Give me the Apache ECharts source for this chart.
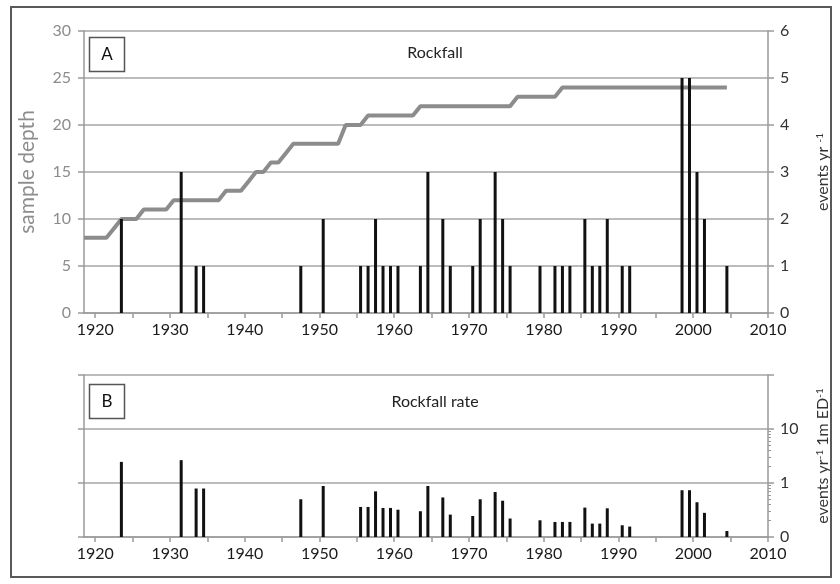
<!DOCTYPE html>
<html><head><meta charset="utf-8">
<script src="https://cdn.jsdelivr.net/npm/echarts@6/dist/echarts.min.js"></script>
<style>html,body{margin:0;padding:0;background:#fff}#c{width:840px;height:584px}</style>
</head><body><div id="c"></div>
<script>
// ---- data ----
const depthStartYear = 1918;            // first year of the sample-depth curve
const sampleDepth = [
  8,8,8,8, 9, 10,10,10, 11,11,11,11, 12,12,12,12,12,12,12, 13,13,13, 14, 15,15, 16,16, 17,
  18,18,18,18,18,18,18, 20,20,20, 21,21,21,21,21,21,21,
  22,22,22,22,22,22,22,22,22,22,22,22,22, 23,23,23,23,23,23,
  24,24,24,24,24,24,24,24,24,24,24,24,24,24,24,24,24,24,24,24,24,24,24
];
const eventYears = [1923,1931,1933,1934,1947,1950,1955,1956,1957,1958,1959,1960,1963,1964,1966,1967,
  1970,1971,1973,1974,1975,1979,1981,1982,1983,1985,1986,1987,1988,1990,1991,1998,1999,2000,2001,2004];
const eventsPerYear = [2,3,1,1,1,2,1,1,2,1,1,1,1,3,2,1,
  1,2,3,2,1,1,1,1,1,2,1,1,2,1,1,5,5,3,2,1];
const rockfallRate = [2.46,2.65,0.79,0.79,0.50,0.88,0.36,0.36,0.70,0.345,0.345,0.32,0.30,0.88,0.54,0.26,
  0.245,0.50,0.68,0.47,0.22,0.204,0.19,0.19,0.19,0.35,0.177,0.177,0.34,0.165,0.156,0.735,0.735,0.44,0.28,0.129];
const xLabelYears = [1920,1930,1940,1950,1960,1970,1980,1990,2000,2010];
const xTickYears = [1920,1925,1930,1935,1940,1945,1950,1955,1960,1965,1970,1975,1980,1985,1990,1995,2000,2005,2010];
const minorLogTicks = [0.2,0.3,0.4,0.5,0.6,0.7,0.8,0.9,2,3,4,5,6,7,8,9];

// ---- chart ----
const MID = 0.5; // values are plotted at mid-year
const FONT = 'Lato';
const AX = '#9a9a9a';
const chart = echarts.init(document.getElementById('c'));

const depthData = sampleDepth.map((v, i) => [depthStartYear + i + MID, v]);
const eventData = eventYears.map((y, i) => [y + MID, eventsPerYear[i]]);
const rateData = eventYears.map((y, i) => [y + MID, rockfallRate[i]]);

function xAxis(gi) {
  return {
    type: 'value', gridIndex: gi, min: 1918.5, max: 2010,
    axisLine: { onZero: false, lineStyle: { color: AX, width: 1.5 } },
    axisTick: { show: true, customValues: xTickYears, length: 5, lineStyle: { color: AX, width: 1.5 } },
    axisLabel: { customValues: xLabelYears, formatter: v => String(Math.round(v)),
      color: '#1a1a1a', fontSize: 16, fontFamily: FONT, margin: 9 },
    splitLine: { show: false }
  };
}
const richName = {
  t: { fontSize: 16, fontFamily: FONT, color: '#333' },
  s: { fontSize: 10, fontFamily: FONT, color: '#333', verticalAlign: 'top' }
};

chart.setOption({
  animation: false,
  backgroundColor: '#fff',
  grid: [
    { left: 84, right: 72, top: 31, height: 282 },
    { left: 84, right: 72, top: 375, height: 162 }
  ],
  xAxis: [xAxis(0), xAxis(1)],
  yAxis: [
    { type: 'value', gridIndex: 0, position: 'left', min: 0, max: 30, interval: 5,
      axisLine: { show: true, lineStyle: { color: AX, width: 1.5 } },
      axisTick: { show: true, length: 6, lineStyle: { color: AX, width: 1.5 } },
      axisLabel: { color: '#8c8c8c', fontSize: 16, fontFamily: FONT, margin: 13 },
      splitLine: { show: true, lineStyle: { color: '#a6a6a6', width: 1.5 } },
      name: 'sample depth', nameLocation: 'middle', nameGap: 46, nameRotate: 90,
      nameTextStyle: { color: '#8c8c8c', fontSize: 21, fontFamily: FONT } },
    { type: 'value', gridIndex: 0, position: 'right', min: 0, max: 6, interval: 1,
      axisLine: { show: true, lineStyle: { color: AX, width: 1.5 } },
      axisTick: { show: true, length: 6, lineStyle: { color: AX, width: 1.5 } },
      axisLabel: { color: '#333', fontSize: 16, fontFamily: FONT, margin: 12 },
      splitLine: { show: false },
      name: '{t|events yr }{s|-1}', nameLocation: 'middle', nameGap: 47, nameRotate: 90,
      nameTextStyle: { rich: richName } },
    { type: 'log', logBase: 10, gridIndex: 1, position: 'left', min: 0.1, max: 100, startValue: 0.1,
      axisLine: { show: true, lineStyle: { color: AX, width: 1.5 } },
      axisTick: { show: true, length: 6, lineStyle: { color: AX, width: 1.5 } },
      axisLabel: { show: false },
      splitLine: { show: true, lineStyle: { color: '#a6a6a6', width: 1.5 } } },
    { type: 'log', logBase: 10, gridIndex: 1, position: 'right', min: 0.1, max: 100, startValue: 0.1,
      axisLine: { show: true, lineStyle: { color: AX, width: 1.5 } },
      axisTick: { show: true, length: 6, lineStyle: { color: AX, width: 1.5 } },
      axisLabel: { color: '#333', fontSize: 16, fontFamily: FONT, margin: 12,
        formatter: v => v < 0.5 ? '0' : (v > 50 ? '' : String(Math.round(v))) },
      splitLine: { show: false },
      name: '{t|events yr}{s|-1}{t| 1m ED}{s|-1}', nameLocation: 'middle', nameGap: 47, nameRotate: 90,
      nameTextStyle: { rich: richName } },
    { type: 'log', logBase: 10, gridIndex: 1, position: 'right', min: 0.1, max: 100,
      axisLine: { show: false },
      axisTick: { show: true, customValues: minorLogTicks, length: 3, lineStyle: { color: AX, width: 1 } },
      axisLabel: { show: false },
      splitLine: { show: false } }
  ],
  series: [
    { type: 'line', xAxisIndex: 0, yAxisIndex: 0, data: depthData, showSymbol: false, symbol: 'none',
      lineStyle: { color: '#8c8c8c', width: 4 }, z: 2 },
    { type: 'bar', xAxisIndex: 0, yAxisIndex: 1, data: eventData, barWidth: 3,
      itemStyle: { color: '#111' }, z: 3 },
    { type: 'bar', xAxisIndex: 1, yAxisIndex: 3, data: rateData, barWidth: 3,
      itemStyle: { color: '#111' }, z: 3 }
  ],
  graphic: [
    { type: 'rect', shape: { x: 11, y: 7, width: 820, height: 570 },
      style: { fill: 'none', stroke: '#595959', lineWidth: 2 }, z: 10 },
    { type: 'rect', shape: { x: 89.5, y: 37.5, width: 35, height: 34 },
      style: { fill: '#fff', stroke: '#555', lineWidth: 1.5 }, z: 10 },
    { type: 'text', x: 107, y: 55, style: { text: 'A', fontSize: 17, fontFamily: FONT, fill: '#111',
      align: 'center', verticalAlign: 'middle' }, z: 11 },
    { type: 'rect', shape: { x: 89.5, y: 384.5, width: 35, height: 34 },
      style: { fill: '#fff', stroke: '#555', lineWidth: 1.5 }, z: 10 },
    { type: 'text', x: 107, y: 402, style: { text: 'B', fontSize: 17, fontFamily: FONT, fill: '#111',
      align: 'center', verticalAlign: 'middle' }, z: 11 },
    { type: 'text', x: 435, y: 53, style: { text: 'Rockfall', fontSize: 16, fontFamily: FONT, fill: '#222',
      align: 'center', verticalAlign: 'middle' }, z: 11 },
    { type: 'text', x: 435, y: 402, style: { text: 'Rockfall rate', fontSize: 16, fontFamily: FONT, fill: '#222',
      align: 'center', verticalAlign: 'middle' }, z: 11 }
  ]
});
</script></body></html>
